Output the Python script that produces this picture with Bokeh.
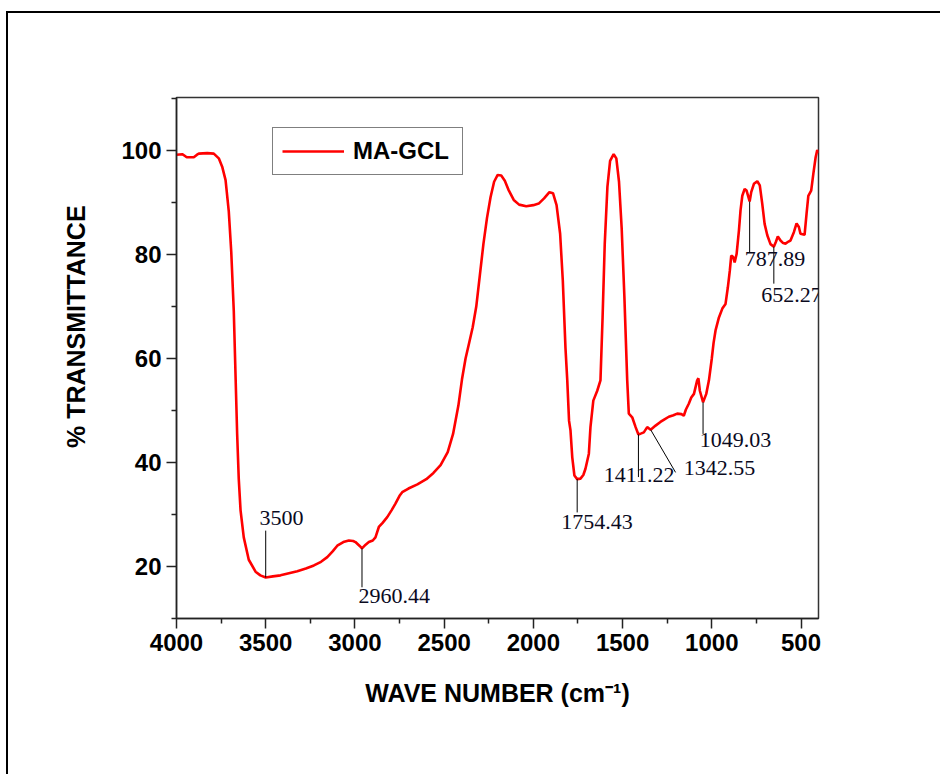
from bokeh.plotting import figure
from bokeh.models import Range1d, FixedTicker, ColumnDataSource, Legend, LegendItem
from bokeh.embed import file_html
from bokeh.resources import INLINE
from bokeh.core.properties import value

# FTIR spectrum of MA-GCL: wavenumber (cm^-1) and % transmittance
wavenumber = [
    4000, 3968, 3950, 3940, 3903, 3885, 3875, 3828, 3791, 3763, 3744, 3725, 3707, 3693,
    3679, 3669, 3660, 3651, 3641, 3623, 3595, 3557, 3530, 3500, 3460, 3417, 3370, 3323,
    3275, 3230, 3190, 3155, 3125, 3099, 3065, 3034, 3010, 2997, 2975, 2960.44, 2940, 2922,
    2900, 2885, 2866, 2845, 2819, 2795, 2773, 2750, 2735, 2700, 2650, 2600, 2560, 2520,
    2480, 2450, 2420, 2400, 2380, 2360, 2340, 2320, 2300, 2280, 2260, 2240, 2220, 2200,
    2180, 2160, 2140, 2110, 2080, 2040, 2000, 1970, 1940, 1910, 1890, 1870, 1850, 1835,
    1820, 1810, 1800, 1792, 1782, 1770, 1754.43, 1736, 1720, 1708, 1689, 1680, 1664, 1642,
    1624, 1612, 1600, 1585, 1570, 1550, 1535, 1520, 1505, 1490, 1474, 1465, 1446, 1427,
    1411.22, 1395, 1381, 1362, 1342.55, 1315, 1288, 1265, 1241, 1215, 1194, 1170, 1157,
    1145, 1129, 1115, 1100, 1082, 1075, 1067, 1049.03, 1031, 1016, 1000, 990, 979, 960,
    941, 923, 910, 899, 891, 880, 872, 861, 848, 839, 829, 816, 805, 787.89, 779, 764,
    745, 731, 717, 704, 689, 671, 652.27, 640, 630, 615, 600, 587, 570, 559, 540, 525,
    512, 503, 480, 469, 459, 443, 431, 418, 409, 402,
]
transmittance = [
    99.2, 99.3, 98.9, 98.7, 98.7, 99.2, 99.4, 99.5, 99.4, 98.5, 96.9, 94.3, 88.3, 80.4,
    69.2, 56.6, 45.4, 36.8, 30.8, 25.6, 21.3, 19.0, 18.3, 17.9, 18.1, 18.3, 18.7, 19.1,
    19.6, 20.2, 20.9, 21.8, 22.9, 24.0, 24.7, 25.0, 24.9, 24.7, 24.0, 23.5, 24.2, 24.7,
    25.0, 25.6, 27.6, 28.4, 29.5, 30.8, 32.1, 33.6, 34.3, 35.0, 35.8, 36.8, 38.0, 39.5,
    42.0, 45.5, 51.0, 56.0, 60.0, 63.0, 66.0, 70.0, 76.0, 82.0, 87.0, 91.0, 94.0, 95.3,
    95.2, 94.2, 92.5, 90.5, 89.6, 89.3, 89.5, 89.8, 90.8, 92.0, 91.8, 89.5, 84.0, 75.0,
    62.0, 55.8, 48.0, 46.2, 41.0, 37.5, 36.8, 36.9, 37.6, 38.8, 41.7, 46.8, 51.9, 53.8,
    55.8, 68.0, 82.0, 93.0, 98.0, 99.3, 98.5, 94.0, 85.0, 72.0, 55.8, 49.4, 48.7, 46.8,
    45.4, 45.6, 45.8, 46.8, 46.3, 47.1, 47.8, 48.3, 48.8, 49.1, 49.4, 49.3, 49.0,
    50.2, 51.3, 52.5, 53.2, 55.8, 56.2, 53.8, 51.6, 53.2, 55.8, 60.0, 63.0, 65.4, 67.9,
    69.6, 70.5, 73.7, 76.9, 79.8, 79.5, 78.5, 80.1, 84.6, 88.5, 91.3, 92.6, 92.3, 90.2, 92.0, 93.6,
    94.1, 93.3, 89.7, 85.9, 83.7, 82.0, 81.5, 82.5, 83.5, 82.7, 82.2, 82.1, 82.5, 82.7, 84.3, 86.0,
    85.3, 84.0, 83.8, 87.8, 91.3, 92.3, 95.5, 98.7, 100.1, 99.5,
]

# Peak annotations: leader line from the band to its label
peak_labels = ["3500", "2960.44", "1754.43", "1411.22", "1342.55", "1049.03", "787.89", "652.27"]
peak_wn = [3500, 2960.44, 1754.43, 1411.22, 1342.55, 1049.03, 787.89, 652.27]
peak_t = [17.9, 23.5, 36.8, 45.4, 46.3, 51.6, 90.2, 81.5]
leader_end_wn = [3500, 2960.44, 1754.43, 1411.22, 1203, 1049.03, 787.89, 652.27]
leader_end_t = [26.9, 16.0, 30.4, 37.2, 38.1, 45.5, 80.4, 74.4]
label_wn = [3535, 2980, 1844, 1605, 1157, 1067, 816, 723]
label_t = [29.4, 14.4, 28.6, 37.6, 38.9, 44.3, 79.1, 72.3]

x_major = [4000, 3500, 3000, 2500, 2000, 1500, 1000, 500]
x_minor = [3750, 3250, 2750, 2250, 1750, 1250, 750]
y_major = [20, 40, 60, 80, 100]
y_minor = [10, 30, 50, 70, 90, 110]

p = figure(width=934, height=763, output_backend="svg", toolbar_location=None,
           x_range=Range1d(4000, 402), y_range=Range1d(10, 110.2),
           min_border_left=168, min_border_right=124, min_border_top=84,
           min_border_bottom=158)
# page frame drawn around the whole figure (left and top edges show)
p.styles = {"margin-left": "6px", "margin-top": "11px",
            "border-left": "2px solid black", "border-top": "2px solid black"}
p.xgrid.visible = False
p.ygrid.visible = False
p.background_fill_color = "white"
p.border_fill_color = "white"
p.outline_line_color = "#333333"
p.outline_line_width = 1.5

tick_font = "Liberation Sans"
for ax, major, minor in ((p.xaxis[0], x_major, x_minor), (p.yaxis[0], y_major, y_minor)):
    ax.ticker = FixedTicker(ticks=major, minor_ticks=minor)
    ax.axis_line_color = "#222222"
    ax.axis_line_width = 1.5
    ax.major_tick_line_color = "#222222"
    ax.minor_tick_line_color = "#222222"
    ax.major_tick_line_width = 1.5
    ax.minor_tick_line_width = 1.5
    ax.major_tick_out = 10
    ax.major_tick_in = 0
    ax.minor_tick_out = 5
    ax.minor_tick_in = 0
    ax.major_label_text_font = tick_font
    ax.major_label_text_font_style = "bold"
    ax.major_label_text_font_size = "24px"
    ax.major_label_text_color = "black"
    ax.axis_label_text_font = tick_font
    ax.axis_label_text_font_style = "bold"
    ax.axis_label_text_font_size = "25px"
    ax.axis_label_text_color = "black"

p.xaxis.axis_label = "WAVE NUMBER (cm\u207b\u00b9)"
# leading no-break spaces lift the vertical title above the frame's middle
p.yaxis.axis_label = "\u00a0" * 9 + "% TRANSMITTANCE"
p.xaxis.major_label_standoff = 5
p.yaxis.major_label_standoff = 5
p.xaxis.axis_label_standoff = 25
p.yaxis.axis_label_standoff = 28

spectrum = ColumnDataSource(dict(x=wavenumber, y=transmittance))
line = p.line("x", "y", source=spectrum, line_color="#ff0000", line_width=2.6)

leaders = ColumnDataSource(dict(x0=peak_wn, y0=peak_t, x1=leader_end_wn, y1=leader_end_t))
p.segment("x0", "y0", "x1", "y1", source=leaders, line_color="black", line_width=1)

labels = ColumnDataSource(dict(x=label_wn, y=label_t, text=peak_labels))
p.text("x", "y", text="text", source=labels, text_font=value("Liberation Serif"),
       text_font_size="22px", text_color="#0a0a1e", text_align="left",
       text_baseline="alphabetic")

legend = Legend(items=[LegendItem(label="MA-GCL", renderers=[line])],
                location=(96, 443), padding=9, margin=0, spacing=0,
                glyph_width=62, glyph_height=24, label_standoff=9, label_width=100,
                label_text_font=tick_font, label_text_font_style="bold",
                label_text_font_size="24px", label_text_color="black",
                border_line_color="black", border_line_width=1.2,
                background_fill_color="white", background_fill_alpha=1)
p.add_layout(legend)

open("out.html", "w").write(file_html(p, INLINE))
